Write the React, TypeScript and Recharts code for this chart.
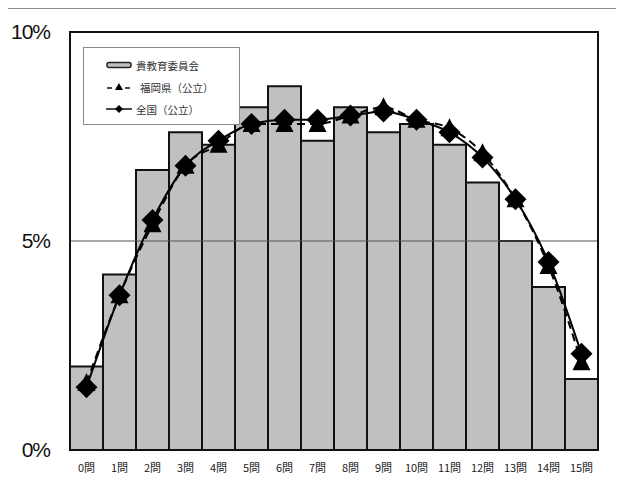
import {
  ComposedChart,
  Bar,
  Line,
  XAxis,
  YAxis,
  ReferenceLine,
} from "recharts"

const categories = [
  "0問", "1問", "2問", "3問", "4問", "5問", "6問", "7問",
  "8問", "9問", "10問", "11問", "12問", "13問", "14問", "15問",
]
// percentage of students per number of correct answers
const boardValues = [2.0, 4.2, 6.7, 7.6, 7.3, 8.2, 8.7, 7.4, 8.2, 7.6, 7.8, 7.3, 6.4, 5.0, 3.9, 1.7]
const fukuokaValues = [1.6, 3.7, 5.4, 6.8, 7.3, 7.8, 7.8, 7.8, 8.0, 8.2, 7.9, 7.7, 7.1, 6.0, 4.4, 2.1]
const nationalValues = [1.5, 3.7, 5.5, 6.8, 7.4, 7.8, 7.9, 7.9, 8.0, 8.1, 7.9, 7.6, 7.0, 6.0, 4.5, 2.3]
const yTicks = [0, 5, 10]

const seriesNames = {
  board: "貴教育委員会",
  fukuoka: "福岡県（公立）",
  national: "全国（公立）",
}

const chartData = categories.map((name, i) => ({
  name,
  board: boardValues[i],
  fukuoka: fukuokaValues[i],
  national: nationalValues[i],
}))

const jpFont = "'Noto Sans CJK JP', 'Noto Sans', sans-serif"

function Diamond(props: any) {
  const { cx, cy } = props
  if (cx == null || cy == null) return null
  const r = 11
  return (
    <polygon
      points={`${cx},${cy - r} ${cx + r},${cy} ${cx},${cy + r} ${cx - r},${cy}`}
      fill="#000"
    />
  )
}

function Triangle(props: any) {
  const { cx, cy } = props
  if (cx == null || cy == null) return null
  return (
    <polygon
      points={`${cx},${cy - 10} ${cx + 9},${cy + 8} ${cx - 9},${cy + 8}`}
      fill="#000"
    />
  )
}

function YTick(props: any) {
  const { y, payload } = props
  return (
    <text
      x={50}
      y={y}
      dy={7}
      textAnchor="end"
      fontSize={21}
      fontFamily="'Liberation Sans', Arial, sans-serif"
      letterSpacing={-1}
      fill="#111"
    >
      {payload.value}%
    </text>
  )
}

function XTick(props: any) {
  const { x, y, payload } = props
  return (
    <text
      x={x}
      y={y + 14}
      textAnchor="middle"
      fontSize={11}
      fontFamily={jpFont}
      fill="#222"
    >
      {payload.value}
    </text>
  )
}

// legend box in the upper-left of the plot
function LegendBox() {
  const row = { display: "flex", alignItems: "center", height: 22 }
  const label = { fontSize: 10.5, color: "#333", marginLeft: 4 }
  return (
    <div
      style={{
        position: "absolute",
        left: 83,
        top: 47,
        width: 157,
        height: 78,
        border: "1.5px solid #888",
        background: "#fff",
        padding: "6px 0 0 22px",
        boxSizing: "border-box",
        fontFamily: jpFont,
      }}
    >
      <div style={row}>
        <svg width={26} height={8}>
          <rect x={1} y={1.5} width={24} height={5} rx={2} fill="#c0c0c0" stroke="#222" strokeWidth={1.5} />
        </svg>
        <span style={label}>{seriesNames.board}</span>
      </div>
      <div style={row}>
        <svg width={26} height={10}>
          <line x1={1} y1={6} x2={25} y2={6} stroke="#111" strokeWidth={1.5} strokeDasharray="5 4" />
          <polygon points="13,1 17,8 9,8" fill="#000" />
        </svg>
        <span style={{ ...label, marginLeft: 8 }}>{seriesNames.fukuoka}</span>
      </div>
      <div style={row}>
        <svg width={26} height={10}>
          <line x1={0} y1={5} x2={26} y2={5} stroke="#111" strokeWidth={1.5} />
          <polygon points="13,1 17,5 13,9 9,5" fill="#000" />
        </svg>
        <span style={label}>{seriesNames.national}</span>
      </div>
    </div>
  )
}

export default function App() {
  return (
    <div style={{ position: "relative", width: 624, height: 486, margin: -8, background: "#fff", overflow: "hidden" }}>
      <ComposedChart
        width={624}
        height={486}
        data={chartData}
        margin={{ top: 32, right: 26, bottom: 0, left: 0 }}
        barCategoryGap={0}
        barGap={0}
      >
        {/* outer frame of the figure */}
        <path d="M6,486 L6,8 L624,8" fill="none" stroke="#666" strokeWidth={1.5} />
        <XAxis
          dataKey="name"
          axisLine={false}
          tickLine={false}
          interval={0}
          height={36}
          tick={<XTick />}
        />
        <YAxis
          domain={[0, 10]}
          ticks={yTicks}
          axisLine={false}
          tickLine={false}
          width={70}
          tick={<YTick />}
        />
        <ReferenceLine y={5} stroke="#555" strokeWidth={1} />
        <Bar
          dataKey="board"
          name={seriesNames.board}
          fill="#c0c0c0"
          stroke="#111"
          strokeWidth={2}
          isAnimationActive={false}
        />
        <Line
          type="monotone"
          dataKey="fukuoka"
          name={seriesNames.fukuoka}
          stroke="#000"
          strokeWidth={2}
          strokeDasharray="8 5"
          dot={<Triangle />}
          activeDot={false}
          isAnimationActive={false}
        />
        <Line
          type="monotone"
          dataKey="national"
          name={seriesNames.national}
          stroke="#000"
          strokeWidth={2}
          dot={<Diamond />}
          activeDot={false}
          isAnimationActive={false}
        />
      </ComposedChart>
      <LegendBox />
      {/* plot area border */}
      <div
        style={{
          position: "absolute",
          left: 69,
          top: 31,
          width: 530,
          height: 420,
          border: "2px solid #111",
          boxSizing: "border-box",
          pointerEvents: "none",
        }}
      />
    </div>
  )
}
